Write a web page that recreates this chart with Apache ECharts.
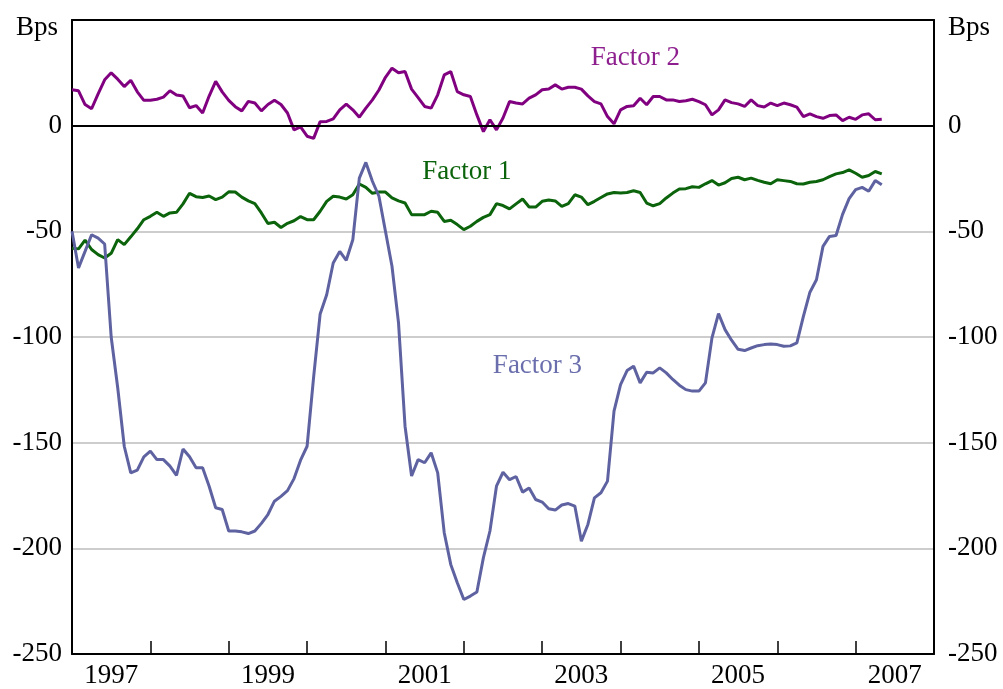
<!DOCTYPE html>
<html>
<head>
<meta charset="utf-8">
<script src="https://cdn.jsdelivr.net/npm/echarts@6/dist/echarts.min.js"></script>
<style>
  html, body { margin: 0; padding: 0; background: #fff; }
  #main { width: 1003px; height: 689px; }
</style>
</head>
<body>
<div id="main"></div>
<script>
// monthly observations, Jan 1997 .. May 2007 (decimal years built below)
const startYear = 1997
const monthCount = 125

const yearLabels = ['1997', '1998', '1999', '2000', '2001', '2002', '2003', '2004', '2005', '2006', '2007']

const factor1 = [
  -58, -58.3, -54.2, -58.6, -61, -62.6, -60.4, -53.9, -56.3, -52.6, -48.8, -44.5,
  -42.9, -41, -42.9, -41.3, -41, -37, -32, -33.6, -34, -33.3, -35, -33.8,
  -31.3, -31.4, -33.8, -35.6, -36.9, -41.3, -46.3, -45.7, -48.2, -46.2, -45, -43,
  -44.5, -44.5, -40.5, -35.8, -33.4, -33.8, -34.7, -32.7, -27.6, -29.2, -32, -31.4,
  -31.4, -34.2, -35.6, -36.6, -42.1, -42.1, -42.1, -40.5, -41, -45.3, -44.8, -46.8,
  -49.2, -47.6, -45.3, -43.4, -42.1, -36.9, -37.8, -39.4, -37, -34.7, -38.5, -38.5,
  -35.8, -35.2, -35.6, -38.2, -36.9, -32.7, -33.8, -37.4, -35.8, -34, -32.3, -31.6,
  -31.9, -31.6, -30.8, -31.6, -36.6, -37.9, -36.9, -34.2, -31.9, -30, -29.8, -28.9,
  -29.2, -27.5, -26, -28.1, -27, -25, -24.4, -25.6, -24.8, -25.9, -26.8, -27.5,
  -25.6, -26, -26.4, -27.5, -27.6, -26.8, -26.4, -25.6, -24.1, -22.8, -22.2, -20.9,
  -22.5, -24.4, -23.6, -21.7, -22.8
]

const factor2 = [
  17, 16.5, 10, 8, 15, 21.7, 25, 22, 18.5, 21.5, 16, 12,
  12, 12.5, 13.5, 16.5, 14.5, 14, 8.5, 9.5, 6, 14, 21, 16,
  12, 9, 7, 11.5, 10.7, 7, 10, 12, 10, 6, -2, -0.6,
  -5, -6, 1.9, 2, 3.2, 7.5, 10.2, 7.5, 4, 8.3, 12.2, 16.9,
  22.9, 27.2, 25, 25.6, 17.3, 13.3, 9.1, 8.3, 14.6, 24, 25.6, 16.1,
  14.6, 13.8, 5.1, -2.8, 2.8, -2, 3.6, 11.4, 10.7, 10.3, 13, 14.6,
  17, 17.3, 19.3, 17.3, 18.2, 18.2, 17.3, 14.1, 11.4, 10.3, 4.3, 0.9,
  7.5, 9.1, 9.4, 13, 9.9, 13.8, 13.8, 12.2, 12.2, 11.4, 11.8, 12.5,
  11.4, 9.9, 5.1, 7.5, 12.2, 10.9, 10.3, 9.1, 12.2, 9.5, 8.8, 10.7,
  9.5, 10.7, 9.9, 8.8, 4.3, 5.6, 4.3, 3.5, 4.8, 5.1, 2.4, 4,
  3, 5.1, 5.6, 2.8, 3
]

const factor3 = [
  -50, -67.3, -59.5, -51.6, -53.2, -56, -100, -124, -151.7, -164.3, -163, -156.7,
  -154, -158, -158, -161.1, -165.5, -153, -156.7, -161.9, -161.9, -170.6, -180.8, -181.6,
  -191.8, -191.8, -192.2, -193, -191.8, -188.2, -184, -177.7, -175.4, -172.7, -167, -158.3,
  -151.7, -119, -89.1, -80, -65, -59.5, -63.7, -54, -24.8, -17.4, -26.3, -33.4,
  -50, -66.5, -93.3, -142.2, -165.8, -158, -159.5, -154.8, -164.3, -192.6, -207.6, -216.3,
  -224.2, -222.6, -220.7, -204.4, -191.8, -170.6, -164, -167.5, -166, -173.4, -171.4, -176.9,
  -178.1, -181.3, -181.9, -179.5, -178.8, -180, -196.6, -188.7, -176.1, -173.7, -168.2, -135.1,
  -122.5, -115.9, -113.8, -121.7, -116.7, -117, -114.6, -117, -120.1, -122.8, -124.9, -125.6,
  -125.6, -121.7, -100.4, -88.9, -96.5, -101.5, -105.8, -106.4, -105.2, -104.1, -103.6, -103.3,
  -103.6, -104.4, -104.2, -102.8, -90.2, -78.8, -72.9, -57.1, -52.4, -52, -42, -34.5,
  -30.3, -29.2, -31, -26, -28
]

const months = []
for (let m = 0; m < monthCount; m++) months.push(startYear + m / 12)

const pairs = vals => vals.map((v, i) => [months[i], v])

const serif = 'Liberation Serif'
const green = '#0b640b'
const purple = '#800080'
const blue = '#5e62a0'

function tag(text, coord, color) {
   return {
      symbol: 'circle',
      symbolSize: 1,
      silent: true,
      itemStyle: { color: 'rgba(0,0,0,0)' },
      label: {
         show: true,
         position: 'inside',
         formatter: text,
         color: color,
         fontFamily: serif,
         fontSize: 27
      },
      data: [{ coord: coord }]
   }
}

const yAxisBase = {
   type: 'value',
   min: -250,
   max: 50,
   interval: 50,
   axisLine: { show: true, lineStyle: { color: '#000', width: 2 } },
   axisTick: { show: false },
   axisLabel: {
      fontFamily: serif,
      fontSize: 27,
      color: '#000',
      formatter: v => v === 50 ? '' : String(v)
   }
}

let myChart = echarts.init(document.getElementById('main'))

myChart.setOption({
   animation: false,
   backgroundColor: '#fff',
   grid: {
      left: 72,
      right: 69,
      top: 20,
      bottom: 34
   },
   xAxis: [
      {
         type: 'category',
         data: yearLabels,
         boundaryGap: true,
         position: 'bottom',
         axisLine: { show: true, onZero: false, lineStyle: { color: '#000', width: 2 } },
         axisTick: { show: true, inside: true, length: 13, interval: 0, lineStyle: { color: '#000', width: 1.5 } },
         axisLabel: { interval: 1, margin: 8, fontFamily: serif, fontSize: 27, color: '#000' },
         splitLine: { show: false }
      },
      {
         type: 'value',
         min: 1997,
         max: 2008,
         position: 'top',
         axisLine: { show: true, onZero: false, lineStyle: { color: '#000', width: 2 } },
         axisTick: { show: false },
         axisLabel: { show: false },
         splitLine: { show: false }
      }
   ],
   yAxis: [
      Object.assign({}, yAxisBase, {
         position: 'left',
         axisLabel: Object.assign({}, yAxisBase.axisLabel, { margin: 10 }),
         splitLine: {
            show: true,
            showMinLine: false,
            showMaxLine: false,
            lineStyle: { color: '#bdbdbd', width: 1.5 }
         }
      }),
      Object.assign({}, yAxisBase, {
         position: 'right',
         axisLabel: Object.assign({}, yAxisBase.axisLabel, { margin: 14 }),
         splitLine: { show: false }
      })
   ],
   graphic: [
      { type: 'text', x: 58, y: 28, style: { text: 'Bps', align: 'right', verticalAlign: 'middle', fontFamily: serif, fontSize: 27, fill: '#000' } },
      { type: 'text', x: 948, y: 28, style: { text: 'Bps', align: 'left', verticalAlign: 'middle', fontFamily: serif, fontSize: 27, fill: '#000' } }
   ],
   series: [
      {
         name: 'Factor 1',
         type: 'line',
         xAxisIndex: 1,
         yAxisIndex: 0,
         symbol: 'none',
         lineStyle: { color: green, width: 3 },
         data: pairs(factor1),
         markPoint: tag('Factor 1', [2002.04, -21.8], green)
      },
      {
         name: 'Factor 2',
         type: 'line',
         xAxisIndex: 1,
         yAxisIndex: 0,
         symbol: 'none',
         lineStyle: { color: purple, width: 3 },
         data: pairs(factor2),
         markPoint: tag('Factor 2', [2004.19, 32.1], '#8e1f8e'),
         markLine: {
            silent: true,
            symbol: 'none',
            label: { show: false },
            lineStyle: { color: '#000', width: 2, type: 'solid' },
            data: [{ yAxis: 0 }]
         }
      },
      {
         name: 'Factor 3',
         type: 'line',
         xAxisIndex: 1,
         yAxisIndex: 0,
         symbol: 'none',
         lineStyle: { color: blue, width: 3 },
         data: pairs(factor3),
         markPoint: tag('Factor 3', [2002.94, -113.9], '#6a6eac')
      }
   ]
})
</script>
</body>
</html>
